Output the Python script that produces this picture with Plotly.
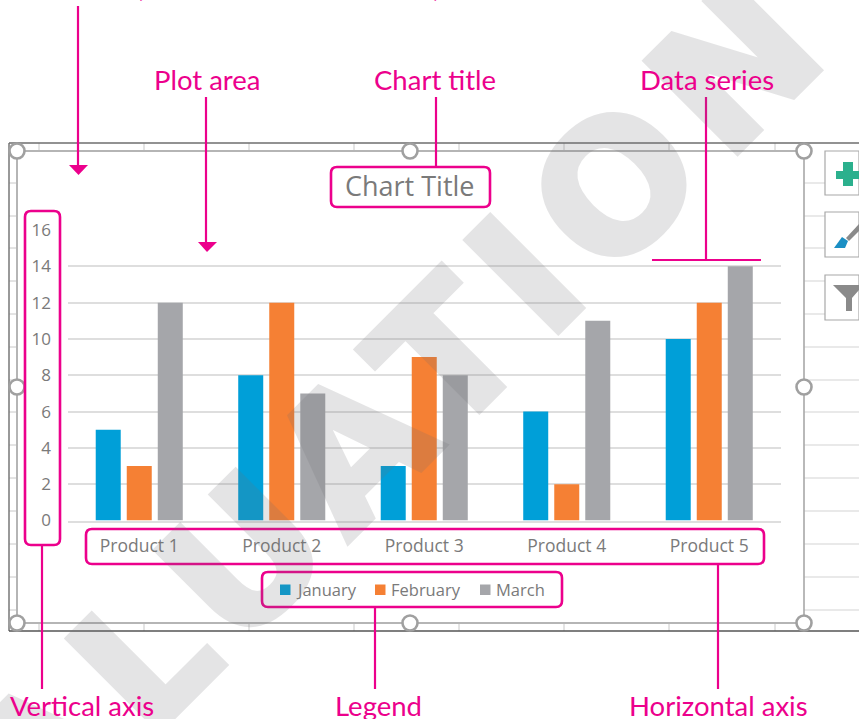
import plotly.graph_objects as go

W, H = 859, 719
categories = ["Product 1", "Product 2", "Product 3", "Product 4", "Product 5"]
series_names = ["January", "February", "March"]
january = [5, 8, 3, 6, 10]
february = [3, 12, 9, 2, 12]
march = [12, 7, 8, 11, 14]
y_ticks = [0, 2, 4, 6, 8, 10, 12, 14, 16]
colors = ["#009fd8", "#f58034", "#a5a6aa"]

PINK = "#ec008c"
GRID = "#dedede"
TXT = "#7a7a7a"
FONT = "Open Sans"
LABEL_FONT = "Lato"


def X(px):
    return px / W


def Y(py):
    return 1 - py / H


shapes = []


def line(x0, y0, x1, y1, color, width=1.0):
    shapes.append(dict(type="line", xref="paper", yref="paper", x0=X(x0), y0=Y(y0), x1=X(x1), y1=Y(y1),
                       line=dict(color=color, width=width), layer="above"))


def path(points, fill, color=None, width=0, close=True):
    d = "M" + " L".join(f"{X(a):.5f},{Y(b):.5f}" for a, b in points) + (" Z" if close else "")
    shapes.append(dict(type="path", xref="paper", yref="paper", path=d, fillcolor=fill, layer="above",
                       line=dict(color=color or fill, width=width)))


def rbox(x0, y0, x1, y1, r=6):
    a, b = X(x0), Y(y0)
    c, d = X(x1), Y(y1)
    rx, ry = r / W, r / H
    p = (f"M{a+rx:.5f},{b:.5f} L{c-rx:.5f},{b:.5f} Q{c:.5f},{b:.5f} {c:.5f},{b-ry:.5f} "
         f"L{c:.5f},{d+ry:.5f} Q{c:.5f},{d:.5f} {c-rx:.5f},{d:.5f} L{a+rx:.5f},{d:.5f} "
         f"Q{a:.5f},{d:.5f} {a:.5f},{d+ry:.5f} L{a:.5f},{b-ry:.5f} Q{a:.5f},{b:.5f} {a+rx:.5f},{b:.5f} Z")
    shapes.append(dict(type="path", xref="paper", yref="paper", path=p, layer="above",
                       line=dict(color=PINK, width=2.6)))


# sheet cell ticks around the chart frame
for x in [39, 144, 249, 354, 459, 564, 669, 775]:
    line(x, 143, x, 151, "#c8c8c8")
    line(x, 623, x, 631, "#c8c8c8")
for y in [183, 216, 248, 281, 314, 347, 380, 412, 445, 478, 511, 544, 577, 610]:
    line(9, y, 17, y, "#c8c8c8")
    line(804, y, 859, y, "#d4d4d4", 1.2)

# chart frame
line(9, 143, 859, 143, "#6e6e6e", 1.4)
line(9, 143, 9, 631, "#6e6e6e", 1.4)
line(9, 631, 859, 631, "#555555", 1.4)
line(17, 151, 804, 151, "#b5b5b5", 2)
line(17, 623, 804, 623, "#b5b5b5", 2)
line(17, 151, 17, 623, "#b5b5b5", 2)
line(804, 151, 804, 623, "#a8a8a8", 1.6)

# handles
for cx, cy in [(17, 151), (410, 151), (804, 151), (17, 387), (804, 387), (17, 623), (410, 623), (804, 623)]:
    shapes.append(dict(type="circle", xref="paper", yref="paper", layer="above",
                       x0=X(cx - 7.5), x1=X(cx + 7.5), y0=Y(cy + 7.5), y1=Y(cy - 7.5),
                       fillcolor="white", line=dict(color="#a0a0a0", width=2.6)))

# chart side buttons
for y0, y1 in [(151, 195), (212, 257), (275, 320)]:
    path([(859, y0), (825, y0), (825, y1), (859, y1)], "white", "#a8a8a8", 1.2)
path([(843, 162), (853, 162), (853, 171), (859, 171), (859, 179), (853, 179), (853, 186), (843, 186),
      (843, 179), (836, 179), (836, 171), (843, 171)], "#2bb08d")
path([(834, 248), (842, 237), (848, 241), (845, 248)], "#1b8fc4")
path([(846, 238), (859, 224), (859, 231), (849, 241)], "#8a8a8a")
path([(833, 285), (859, 285), (859, 290), (852, 298), (852, 311), (846, 311), (846, 298)], "#8a8a8a")

# pink leader lines
for a in [(78, 6, 78, 167), (206, 97, 206, 242), (436, 97, 436, 167), (706, 97, 706, 260), (652, 260, 761, 260),
          (42, 545, 42, 689), (375, 607, 375, 689), (718, 564, 718, 689)]:
    line(*a, PINK, 2.2)
path([(69, 165), (88, 165), (78.5, 175)], PINK)
path([(198, 242), (217, 242), (207, 252)], PINK)

rbox(331, 167, 490, 207)
rbox(25, 211, 60, 545)
rbox(86, 529, 764, 564)
rbox(262, 572, 562, 607)

annotations = [
    dict(text="EVALUATION", x=X(297.5), y=Y(505.5), textangle=-45, showarrow=False,
         font=dict(family="DejaVu Sans", weight=700, size=178, color="rgba(110,110,115,0.2)"),
         xref="paper", yref="paper", xanchor="center", yanchor="middle"),
]
for text, cx, cy in [("Plot area", 207, 80), ("Chart title", 435, 80), ("Data series", 707, 80),
                     ("Vertical axis", 82, 705), ("Legend", 378, 705), ("Horizontal axis", 718, 705),
                     ("Chart area (the whole chart window)", 222, -13)]:
    annotations.append(dict(text=text, x=X(cx), y=Y(cy), showarrow=False, xref="paper", yref="paper",
                            xanchor="center", yanchor="middle",
                            font=dict(family=LABEL_FONT, size=27.5, color=PINK)))
annotations.append(dict(text="Chart Title", x=X(410), y=Y(185), showarrow=False, xref="paper", yref="paper",
                        xanchor="center", yanchor="middle", font=dict(family=FONT, size=27, color=TXT)))

# legend entries, positioned as in the reference
for name, col, sx in zip(series_names, colors, [280, 375, 480]):
    shapes.append(dict(type="rect", xref="paper", yref="paper", layer="above",
                       x0=X(sx), x1=X(sx + 10.5), y0=Y(595), y1=Y(584.5), fillcolor=col, line=dict(width=0)))
    annotations.append(dict(text=name, x=X(sx + 14), y=Y(589.5), showarrow=False, xref="paper", yref="paper",
                            xanchor="left", yanchor="middle", font=dict(family=FONT, size=16.5, color=TXT)))

fig = go.Figure()
for name, vals, col in zip(series_names, [january, february, march], colors):
    fig.add_trace(go.Bar(name=name, x=categories, y=vals, marker=dict(color=col, line=dict(width=0))))

fig.update_layout(
    width=W, height=H, margin=dict(l=0, r=0, t=0, b=0, autoexpand=False), autosize=False,
    paper_bgcolor="white", plot_bgcolor="white", barmode="group", bargap=0.347, bargroupgap=0.194,
    font=dict(family=FONT, color=TXT, size=16), showlegend=False,
    xaxis=dict(domain=[X(68), X(780.5)], anchor="y", showgrid=False, showline=True, linecolor=GRID, linewidth=2,
               ticks="", tickfont=dict(size=17.5, color=TXT), ticklabelstandoff=8),
    yaxis=dict(domain=[Y(520.5), Y(230)], range=[0, 16], tickvals=y_ticks, showgrid=True, gridcolor=GRID, gridwidth=2,
               zeroline=False, tickfont=dict(size=17, color=TXT), ticks="", ticklabelstandoff=16),
    shapes=shapes, annotations=annotations,
)

POST = """
document.body.style.margin = '0';
(function () {
  var gd = document.getElementById('{plot_id}');
  function styleWatermark() {
    gd.querySelectorAll('.annotation-text').forEach(function (t) {
      if (t.textContent !== 'EVALUATION') return;
      t.style.letterSpacing = '18px';
      t.style.setProperty('fill', 'rgb(110,110,115)');
      t.style.setProperty('fill-opacity', '1');
      t.style.setProperty('stroke', 'rgb(110,110,115)');
      t.style.setProperty('stroke-width', '6px');
      t.style.setProperty('opacity', '0.18');
    });
  }
  styleWatermark();
  gd.on('plotly_afterplot', styleWatermark);
})();
"""
fig.write_html("out.html", post_script=POST, config=dict(displayModeBar=False))
